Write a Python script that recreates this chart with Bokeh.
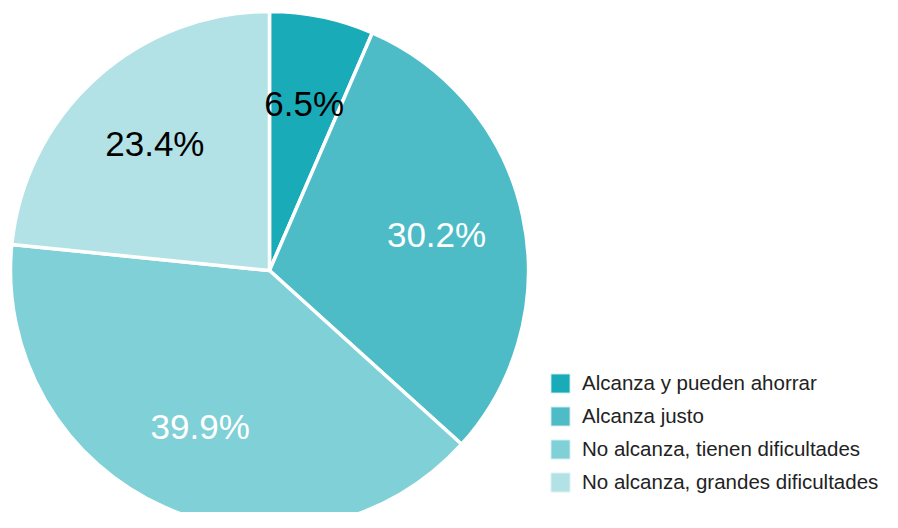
import math
from bokeh.plotting import figure
from bokeh.models import ColumnDataSource, Range1d, Legend, LegendItem
from bokeh.core.properties import value
from bokeh.embed import file_html
from bokeh.resources import INLINE

categories = ["Alcanza y pueden ahorrar", "Alcanza justo",
              "No alcanza, tienen dificultades", "No alcanza, grandes dificultades"]
shares = [6.5, 30.2, 39.9, 23.4]
colors = ["#1aabb8", "#4dbcc7", "#80d0d7", "#b3e2e6"]
label_colors = ["#000000", "#ffffff", "#ffffff", "#000000"]

W, H = 882, 512
cx, cy, R = 269, 242, 259

total = sum(shares)
starts, ends, lx, ly, labels = [], [], [], [], []
cum = 0.0
for s in shares:
    a0 = math.pi / 2 - 2 * math.pi * (cum + s) / total
    a1 = math.pi / 2 - 2 * math.pi * cum / total
    starts.append(a0)
    ends.append(a1)
    mid = (a0 + a1) / 2
    lx.append(cx + 0.66 * R * math.cos(mid))
    ly.append(cy + 0.66 * R * math.sin(mid))
    labels.append(f"{s:.1f}%")
    cum += s

src = ColumnDataSource(dict(lx=lx, ly=ly, label=labels, lcol=label_colors))

p = figure(width=W, height=H, output_backend="svg", toolbar_location=None,
           x_range=Range1d(0, W), y_range=Range1d(0, H), min_border=0,
           outline_line_color=None)
p.axis.visible = False
p.grid.visible = False

# legend swatches (zero-radius wedges, drawn underneath the pie)
legend_renderers = []
for i in range(len(shares)):
    r = p.wedge(x=cx, y=cy, radius=0, start_angle=starts[i], end_angle=ends[i],
                fill_color=colors[i], line_color="#e6f5f6", line_width=1)
    legend_renderers.append(r)

for i in range(len(shares)):
    p.wedge(x=cx, y=cy, radius=R, start_angle=starts[i], end_angle=ends[i],
            fill_color=colors[i], line_color="white", line_width=3.5)

p.text(x="lx", y="ly", text="label", source=src, text_color="lcol",
       text_align="center", text_baseline="middle", text_font_size="35px",
       text_font=value("Liberation Sans"))

legend = Legend(items=[LegendItem(label=categories[i], renderers=[legend_renderers[i]])
                       for i in range(len(shares))],
                location=(548, 18), orientation="vertical",
                glyph_width=24, glyph_height=24, label_height=24,
                spacing=9, padding=0, margin=0, label_standoff=10,
                label_text_font_size="20.5px", label_text_font="Liberation Sans",
                label_text_color="#222222", border_line_color=None,
                background_fill_alpha=0)
p.add_layout(legend)

open("out.html", "w").write(file_html(p, INLINE))
